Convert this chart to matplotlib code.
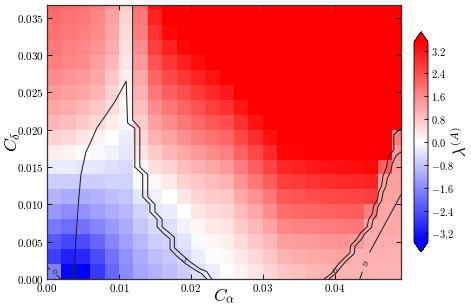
import numpy as np
import matplotlib
matplotlib.use("Agg")
import matplotlib.pyplot as plt
from matplotlib.ticker import FuncFormatter

plt.rcParams['mathtext.fontset'] = 'cm'
plt.rcParams['font.family'] = 'serif'
plt.rcParams['font.serif'] = ['DejaVu Serif']

# grid of cells (C_alpha along x, C_delta along y), 0.002 wide
c_alpha_edges = np.linspace(0.0, 0.050, 26)
c_delta_edges = np.linspace(0.0, 0.038, 20)

# lambda^(A), rows from C_delta = 0.001 (bottom) to 0.037 (top)
lam_rows = [
    [-1.75, -3.41, -3.5, -2.71, -2.1, -1.58, -1.23, -1.05, -0.88, -0.7, -0.44, -0.22, 0.0, 0.18, 0.35, 0.57, 0.79, 0.88, 0.96, 1.05, 1.05, 1.05, 1.05, 1.05, 1.05],
    [-2.63, -3.06, -2.98, -2.45, -1.93, -1.49, -1.14, -0.88, -0.74, -0.57, -0.26, -0.04, 0.09, 0.31, 0.53, 0.79, 1.05, 1.14, 1.18, 1.23, 1.27, 1.09, 1.09, 1.09, 1.09],
    [-2.28, -2.54, -2.45, -2.1, -1.66, -1.31, -0.96, -0.7, -0.61, -0.39, -0.09, 0.13, 0.22, 0.48, 0.74, 1.01, 1.31, 1.36, 1.4, 1.44, 1.49, 1.4, 1.14, 1.14, 1.14],
    [-1.84, -2.01, -1.93, -1.66, -1.4, -1.14, -0.79, -0.53, -0.44, -0.18, 0.13, 0.31, 0.39, 0.7, 0.96, 1.27, 1.66, 1.71, 1.75, 1.79, 1.84, 1.88, 1.18, 1.18, 1.18],
    [-1.4, -1.58, -1.49, -1.31, -1.14, -0.96, -0.61, -0.35, -0.26, 0.04, 0.35, 0.48, 0.57, 0.92, 1.23, 1.58, 2.01, 2.06, 2.1, 2.14, 2.19, 2.23, 1.75, 1.23, 1.23],
    [-1.05, -1.14, -1.14, -1.05, -0.88, -0.79, -0.35, -0.18, 0.0, 0.35, 0.57, 0.7, 0.79, 1.18, 1.53, 1.88, 2.32, 2.36, 2.45, 2.49, 2.54, 2.58, 2.63, 1.27, 1.27],
    [-0.7, -0.7, -0.7, -0.7, -0.61, -0.61, -0.09, 0.09, 0.31, 0.61, 0.79, 0.92, 1.05, 1.49, 1.84, 2.23, 2.63, 2.71, 2.8, 2.89, 2.93, 2.98, 3.02, 1.31, 1.31],
    [-0.26, -0.26, -0.35, -0.35, -0.44, -0.53, 0.09, 0.44, 0.61, 0.88, 1.09, 1.23, 1.4, 1.79, 2.19, 2.58, 2.98, 3.06, 3.15, 3.24, 3.28, 3.33, 3.37, 2.19, 1.36],
    [0.26, 0.18, 0.0, -0.09, -0.18, -0.35, 0.35, 0.7, 0.96, 1.18, 1.4, 1.58, 1.75, 2.14, 2.54, 2.93, 3.41, 3.46, 3.5, 3.54, 3.59, 3.59, 3.59, 3.59, 1.4],
    [0.61, 0.53, 0.35, 0.18, 0.0, -0.26, 0.53, 1.05, 1.27, 1.53, 1.75, 1.93, 2.1, 2.49, 2.89, 3.28, 3.68, 3.76, 3.76, 3.85, 3.85, 3.85, 3.85, 3.85, 1.8],
    [0.96, 0.88, 0.7, 0.53, 0.26, -0.09, 0.7, 1.31, 1.58, 1.84, 2.06, 2.28, 2.45, 2.84, 3.24, 3.59, 3.94, 4.0, 4.0, 4.1, 4.1, 4.1, 4.1, 4.1, 4.1],
    [1.23, 1.14, 0.96, 0.79, 0.44, 0.09, 0.88, 1.58, 1.88, 2.14, 2.36, 2.63, 2.8, 3.19, 3.54, 3.85, 4.2, 4.3, 4.3, 4.4, 4.4, 4.4, 4.4, 4.4, 4.4],
    [1.4, 1.31, 1.23, 1.05, 0.61, 0.18, 1.05, 1.84, 2.19, 2.45, 2.71, 2.93, 3.15, 3.5, 3.85, 4.1, 4.5, 4.5, 4.5, 4.6, 4.6, 4.6, 4.6, 4.6, 4.6],
    [1.58, 1.49, 1.4, 1.23, 0.79, 0.26, 1.23, 2.1, 2.49, 2.76, 3.02, 3.24, 3.5, 3.81, 4.1, 4.4, 4.7, 4.8, 4.8, 4.9, 4.9, 4.9, 4.9, 4.9, 4.9],
    [1.75, 1.66, 1.58, 1.31, 0.96, 0.35, 1.4, 2.36, 2.76, 3.06, 3.33, 3.59, 3.76, 4.1, 4.4, 4.6, 5.0, 5.1, 5.1, 5.2, 5.2, 5.2, 5.2, 5.2, 5.2],
    [1.84, 1.75, 1.66, 1.49, 1.14, 0.44, 1.58, 2.63, 3.06, 3.37, 3.68, 3.85, 4.0, 4.4, 4.6, 4.9, 5.2, 5.3, 5.3, 5.4, 5.4, 5.4, 5.4, 5.4, 5.4],
    [1.93, 1.84, 1.75, 1.58, 1.23, 0.53, 1.75, 2.8, 3.37, 3.68, 3.94, 4.1, 4.3, 4.6, 4.9, 5.2, 5.5, 5.6, 5.6, 5.7, 5.7, 5.7, 5.7, 5.7, 5.7],
    [2.01, 1.93, 1.84, 1.66, 1.31, 0.61, 1.84, 3.06, 3.68, 3.94, 4.2, 4.4, 4.6, 4.9, 5.2, 5.4, 5.8, 5.9, 5.9, 6.0, 6.0, 6.0, 6.0, 6.0, 6.0],
    [2.1, 2.01, 1.93, 1.75, 1.4, 0.7, 1.93, 3.24, 3.94, 4.2, 4.5, 4.6, 4.8, 5.2, 5.4, 5.7, 6.0, 6.1, 6.1, 6.2, 6.2, 6.2, 6.2, 6.2, 6.2],
]
lam = np.array(lam_rows)

# contour lines
curve_a_x = [0.00375, 0.0039, 0.0040, 0.0043, 0.0047, 0.0054, 0.0061, 0.0069, 0.0082, 0.0094, 0.0101, 0.0110,
             0.0112, 0.0122, 0.0122, 0.0133, 0.0133, 0.0143, 0.0143, 0.0153, 0.0153, 0.0163, 0.0171, 0.0171,
             0.0180, 0.0192, 0.0206, 0.0215, 0.0222]
curve_a_y = [0.0, 0.0025, 0.0050, 0.0094, 0.0139, 0.0170, 0.0184, 0.0202, 0.0220, 0.0237, 0.0249, 0.0265,
             0.0209, 0.0202, 0.0150, 0.0140, 0.0110, 0.0100, 0.0090, 0.0080, 0.0070, 0.0060, 0.0054, 0.0040,
             0.0031, 0.0021, 0.0012, 0.0007, 0.0]
curve_b_x = [0.0119, 0.0119, 0.0129, 0.0129, 0.0140, 0.0140, 0.0150, 0.0150, 0.0160, 0.0160, 0.0170, 0.0177,
             0.0177, 0.0187, 0.0199, 0.0212, 0.0222, 0.0229]
curve_b_y = [0.0367, 0.0213, 0.0202, 0.0150, 0.0140, 0.0110, 0.0100, 0.0090, 0.0080, 0.0070, 0.0062, 0.0056,
             0.0042, 0.0033, 0.0023, 0.0014, 0.0010, 0.0]
curve_c_x = [0.04917, 0.0482, 0.0482, 0.0474, 0.0472, 0.0467, 0.0465, 0.0461, 0.0459, 0.0454, 0.0452, 0.0447,
             0.0445, 0.0436, 0.0430, 0.0422, 0.0421, 0.0412, 0.0405, 0.0395, 0.0385]
curve_c_y = [0.0202, 0.0193, 0.0173, 0.0163, 0.0150, 0.0138, 0.0125, 0.0117, 0.0106, 0.0098, 0.0087, 0.0080,
             0.0070, 0.0062, 0.0053, 0.0045, 0.0035, 0.0027, 0.0020, 0.0007, 0.0]
curve_d_x = [0.04917, 0.0485, 0.0480, 0.0478, 0.0473, 0.0471, 0.0467, 0.0465, 0.0460, 0.0458, 0.0453, 0.0451,
             0.0442, 0.0436, 0.0428, 0.0427, 0.0418, 0.0411, 0.0402, 0.0392]
curve_d_y = [0.0170, 0.0165, 0.0155, 0.0145, 0.0135, 0.0124, 0.0116, 0.0105, 0.0097, 0.0086, 0.0079, 0.0069,
             0.0061, 0.0052, 0.0044, 0.0034, 0.0026, 0.0019, 0.0008, 0.0]
curve_e_x = [0.04917, 0.04486]
curve_e_y = [0.01126, 0.00362]
curve_e2_x = [0.0438, 0.04347]
curve_e2_y = [0.0009, 0.0]
curve_f_x = [0.0, 0.0004]
curve_f_y = [0.0016, 0.0013]
curve_f2_x = [0.0014, 0.0019]
curve_f2_y = [0.0005, 0.0]

contour_labels = ["0", "3", "6", "9"]
label_x = [0.0009, 0.0189, 0.0401, 0.0443]
label_y = [0.0010, 0.0026, 0.0011, 0.0020]
label_rot = [-35, -50, 35, 60]

cbar_ticks = [-3.2, -2.4, -1.6, -0.8, 0.0, 0.8, 1.6, 2.4, 3.2]

fig = plt.figure(figsize=(4.71, 3.05), dpi=100)
ax = fig.add_axes([0.0998, 0.0852, 0.7516, 0.8984])
cax = fig.add_axes([0.879, 0.1738, 0.0297, 0.7213])

mesh = ax.pcolormesh(c_alpha_edges, c_delta_edges, lam, cmap='bwr', vmin=-3.5, vmax=3.5)

line_kw = dict(color='#222222', lw=0.75)
for cx, cy in [(curve_a_x, curve_a_y), (curve_b_x, curve_b_y), (curve_c_x, curve_c_y),
               (curve_d_x, curve_d_y), (curve_e_x, curve_e_y), (curve_e2_x, curve_e2_y),
               (curve_f_x, curve_f_y), (curve_f2_x, curve_f2_y)]:
    ax.plot(cx, cy, **line_kw)

for t, lx, ly, r in zip(contour_labels, label_x, label_y, label_rot):
    ax.text(lx, ly, t, fontsize=6, rotation=r, ha='center', va='center', color='#222222')

ax.set_xlim(0, 0.0492)
ax.set_ylim(0, 0.0367)
ax.set_xticks([0.0, 0.01, 0.02, 0.03, 0.04])
ax.set_yticks([0.0, 0.005, 0.01, 0.015, 0.02, 0.025, 0.03, 0.035])
ax.xaxis.set_major_formatter(FuncFormatter(lambda v, p: r'$%.2f$' % v))
ax.yaxis.set_major_formatter(FuncFormatter(lambda v, p: r'$%.3f$' % v))
ax.tick_params(direction='in', top=True, right=True, length=3.5, width=0.6, labelsize=8, pad=2)
for s in ax.spines.values():
    s.set_color('#333333')
    s.set_linewidth(0.9)

ax.set_xlabel(r'$C_\alpha$', fontsize=12.5, va='center')
ax.set_ylabel(r'$C_\delta$', fontsize=13, va='center')
ax.xaxis.set_label_coords(0.5, -0.062)
ax.yaxis.set_label_coords(-0.095, 0.5)

cb = fig.colorbar(mesh, cax=cax, extend='both', ticks=cbar_ticks)
cb.ax.yaxis.set_major_formatter(FuncFormatter(lambda v, p: r'$%.1f$' % v))
cb.ax.tick_params(direction='in', length=3, width=0.6, labelsize=7.5, pad=2)
cb.outline.set_linewidth(0.6)
cb.set_label(r'$\lambda^{(A)}$', fontsize=12, va='center', ha='center')
cb.ax.yaxis.set_label_coords(3.25, 0.5)

fig.savefig('out.png', dpi=100)
